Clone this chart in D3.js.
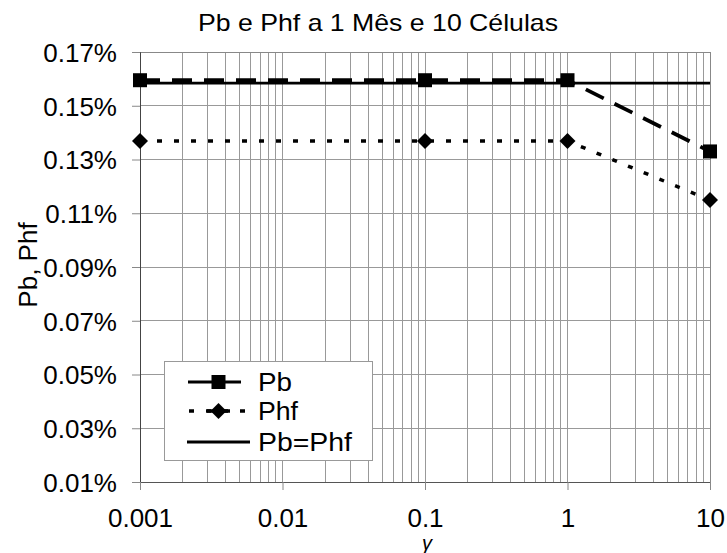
<!DOCTYPE html>
<html><head><meta charset="utf-8">
<script src="https://cdn.jsdelivr.net/npm/d3@7"></script>
<style>body{margin:0;background:#fff}svg{display:block}text{font-family:"Liberation Sans",Arial,sans-serif}</style>
</head><body><svg id="c" width="727" height="553"></svg>
<script>
const gammas = [0.001, 0.1, 1, 10];
const pb = [0.1595, 0.1595, 0.1595, 0.1330];
const phf = [0.1369, 0.1369, 0.1369, 0.1149];
const pbEqX = [0.001, 0.01, 0.1, 1, 10];
const pbEq = [0.1584, 0.1584, 0.1584, 0.1584, 0.1584];
const yTicks = [0.01, 0.03, 0.05, 0.07, 0.09, 0.11, 0.13, 0.15, 0.17];
const xTicks = [0.001, 0.01, 0.1, 1, 10];
const xTickLabels = ["0.001", "0.01", "0.1", "1", "10"];
const seriesNames = ["Pb", "Phf", "Pb=Phf"];
const title = "Pb e Phf a 1 Mês e 10 Células";
const yLabel = "Pb, Phf";
const xLabel = "γ";

const svg = d3.select("#c");
const L = 140, R = 710, T = 52, B = 482;
const x = d3.scaleLog().domain([0.001, 10]).range([L, R]);
const y = d3.scaleLinear().domain([0.01, 0.17]).range([B, T]);
const FS = 26;

// grid
const minor = [];
for (let e = -3; e < 1; e++) for (let k = 2; k <= 9; k++) minor.push(k * Math.pow(10, e));
const grid = svg.append("g").attr("stroke", "#999").attr("stroke-width", 1).attr("shape-rendering", "crispEdges");
grid.selectAll("line.v").data(minor.concat(xTicks)).join("line")
  .attr("x1", d => x(d)).attr("x2", d => x(d)).attr("y1", T).attr("y2", B);
grid.selectAll("line.h").data(yTicks).join("line")
  .attr("x1", L).attr("x2", R).attr("y1", d => y(d)).attr("y2", d => y(d));
svg.append("rect").attr("x", L).attr("y", T).attr("width", R - L).attr("height", B - T)
  .attr("fill", "none").attr("stroke", "#888").attr("shape-rendering", "crispEdges");

// axes
const fmt = d3.format(".2f");
const ya = svg.append("g").attr("transform", `translate(${L},0)`)
  .call(d3.axisLeft(y).tickValues(yTicks).tickSize(8).tickPadding(15).tickFormat(d => fmt(d) + "%"));
ya.select(".domain").attr("stroke", "#444");
ya.selectAll(".tick line").attr("stroke", "#888");
ya.selectAll("text").attr("font-size", FS).attr("fill", "#000").attr("font-family", "Liberation Sans, Arial, sans-serif").attr("dy", "0.36em");
const xa = svg.append("g").attr("transform", `translate(0,${B})`)
  .call(d3.axisBottom(x).tickValues(xTicks).tickSize(8).tickPadding(19).tickFormat((d, i) => xTickLabels[i]));
xa.select(".domain").attr("stroke", "#555");
xa.selectAll(".tick line").attr("stroke", "#888");
xa.selectAll("text").attr("font-size", FS).attr("fill", "#000").attr("font-family", "Liberation Sans, Arial, sans-serif");

// lines
const ln = (xs, ys) => d3.line().x((d, i) => x(xs[i])).y(d => y(d))(ys);
svg.append("path").attr("d", ln(pbEqX, pbEq)).attr("fill", "none").attr("stroke", "#000").attr("stroke-width", 2.8);
svg.append("path").attr("d", ln(gammas, pb)).attr("fill", "none").attr("stroke", "#000").attr("stroke-width", 3.8).attr("stroke-dasharray", "20,12");
svg.append("path").attr("d", ln(gammas, phf)).attr("fill", "none").attr("stroke", "#000").attr("stroke-width", 3.5).attr("stroke-dasharray", "5,12");

const sqPath = "M-7,-7H7V7H-7Z";
const diPath = "M0,-8L8,0L0,8L-8,0Z";
svg.append("g").selectAll("path").data(pb).join("path").attr("d", sqPath)
  .attr("transform", (d, i) => `translate(${x(gammas[i])},${y(d)})`).attr("fill", "#000");
svg.append("g").selectAll("path").data(phf).join("path").attr("d", diPath)
  .attr("transform", (d, i) => `translate(${x(gammas[i])},${y(d)})`).attr("fill", "#000");

// titles
svg.append("text").attr("x", 378).attr("y", 31).attr("text-anchor", "middle").attr("font-size", 24)
  .attr("textLength", 360).attr("lengthAdjust", "spacingAndGlyphs").text(title);
svg.append("text").attr("transform", "translate(37,265) rotate(-90)").attr("text-anchor", "middle").attr("font-size", FS).text(yLabel);
svg.append("text").attr("x", 427).attr("y", 550).attr("text-anchor", "middle").attr("font-size", 20).attr("font-style", "italic").attr("font-family", "Liberation Serif, serif").text(xLabel);

// legend
const lg = svg.append("g");
lg.append("rect").attr("x", 164).attr("y", 361).attr("width", 208).attr("height", 99).attr("fill", "#fff").attr("stroke", "#999").attr("shape-rendering", "crispEdges");
const rowY = [382, 411, 442];
lg.append("line").attr("x1", 188).attr("x2", 241).attr("y1", rowY[0]).attr("y2", rowY[0]).attr("stroke", "#000").attr("stroke-width", 3);
lg.append("path").attr("d", sqPath).attr("transform", `translate(218.5,${rowY[0]})`);
lg.append("line").attr("x1", 189).attr("x2", 248).attr("y1", rowY[1]).attr("y2", rowY[1]).attr("stroke", "#000").attr("stroke-width", 3.5).attr("stroke-dasharray", "5,12");
lg.append("line").attr("x1", 207).attr("x2", 230).attr("y1", rowY[1]).attr("y2", rowY[1]).attr("stroke", "#000").attr("stroke-width", 3.5);
lg.append("path").attr("d", diPath).attr("transform", `translate(218.5,${rowY[1]})`);
lg.append("line").attr("x1", 187).attr("x2", 250).attr("y1", rowY[2]).attr("y2", rowY[2]).attr("stroke", "#000").attr("stroke-width", 2.8);
const lens = [34, 40, 94];
lg.selectAll("text.l").data(seriesNames).join("text").attr("x", 258).attr("y", (d, i) => rowY[i] + 8.5)
  .attr("font-size", 25).attr("textLength", (d, i) => lens[i]).attr("lengthAdjust", "spacingAndGlyphs").text(d => d);
</script></body></html>
